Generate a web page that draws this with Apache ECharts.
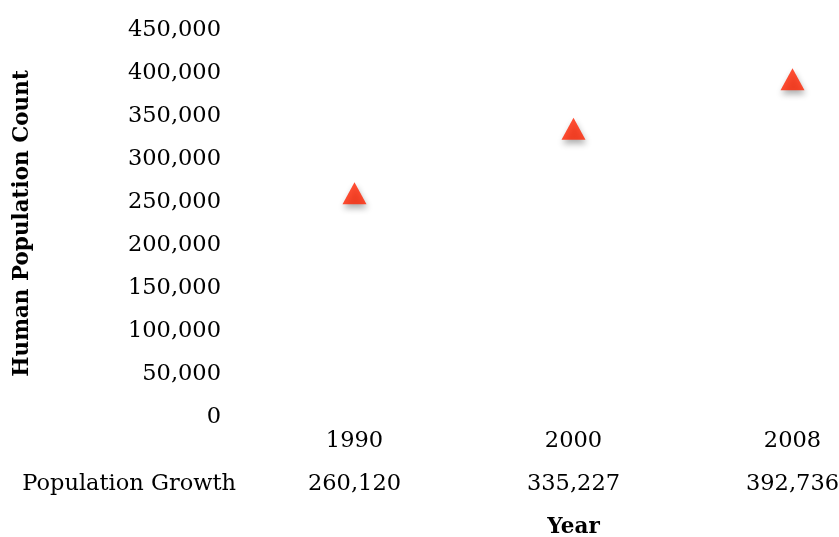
<!DOCTYPE html>
<html>
<head>
<meta charset="utf-8">
<script src="https://cdn.jsdelivr.net/npm/echarts@6/dist/echarts.min.js"></script>
<style>
  html, body { margin: 0; padding: 0; background: #fff; }
  #chart1 { width: 839px; height: 537px; }
</style>
</head>
<body>
<div id="chart1"></div>
<script>
let chart1;

const years = ['1990', '2000', '2008'];
const population = [260120, 335227, 392736];
const tableLabel = 'Population Growth';

const fontFamily = '"DejaVu Serif", serif';
const fmt = v => Number(v).toLocaleString('en-US');

const getOptionChart1 = () => {
    return {
        animation: false,
        grid: {
            left: 245,
            right: -63,
            top: 30,
            bottom: 120,
            outerBoundsMode: 'none',
            containLabel: false
        },
        xAxis: [
            {
                type: 'category',
                data: years,
                name: 'Year',
                nameLocation: 'middle',
                nameGap: 99,
                nameTextStyle: { fontFamily: fontFamily, fontWeight: 'bold', fontSize: 21.5, color: '#000' },
                axisLine: { show: false },
                axisTick: { show: false },
                axisLabel: { fontFamily: fontFamily, fontSize: 22.5, color: '#000', margin: 13 }
            },
            {
                // data table row under the axis
                type: 'category',
                data: years,
                position: 'bottom',
                offset: 67,
                name: tableLabel,
                nameLocation: 'start',
                nameGap: 9,
                nameTextStyle: { fontFamily: fontFamily, fontSize: 22.5, color: '#000', verticalAlign: 'middle' },
                axisLine: { show: false },
                axisTick: { show: false },
                axisLabel: {
                    fontFamily: fontFamily, fontSize: 22.5, color: '#000',
                    margin: 0, verticalAlign: 'middle',
                    formatter: (v, i) => fmt(population[i])
                }
            }
        ],
        yAxis: {
            type: 'value',
            min: 0,
            max: 450000,
            interval: 50000,
            name: 'Human Population Count',
            nameLocation: 'middle',
            nameGap: 212,
            nameTextStyle: { fontFamily: fontFamily, fontWeight: 'bold', fontSize: 21.5, color: '#000' },
            axisLine: { show: false },
            axisTick: { show: false },
            splitLine: { show: false },
            axisLabel: { fontFamily: fontFamily, fontSize: 22.5, color: '#000', margin: 24, formatter: fmt }
        },
        series: [
            {
                type: 'scatter',
                data: population,
                symbol: 'triangle',
                symbolSize: [24, 22],
                itemStyle: {
                    color: '#ff2200',
                    shadowBlur: 6,
                    shadowColor: 'rgba(0,0,0,0.4)',
                    shadowOffsetX: 1,
                    shadowOffsetY: 4
                }
            }
        ]
    };
};

const initCharts = () => {
    chart1 = echarts.init(document.getElementById('chart1'));
    chart1.setOption(getOptionChart1());
};
document.addEventListener('DOMContentLoaded', function () {
    initCharts();
});

window.addEventListener('resize', function () {
    chart1.resize();
});
</script>
</body>
</html>
